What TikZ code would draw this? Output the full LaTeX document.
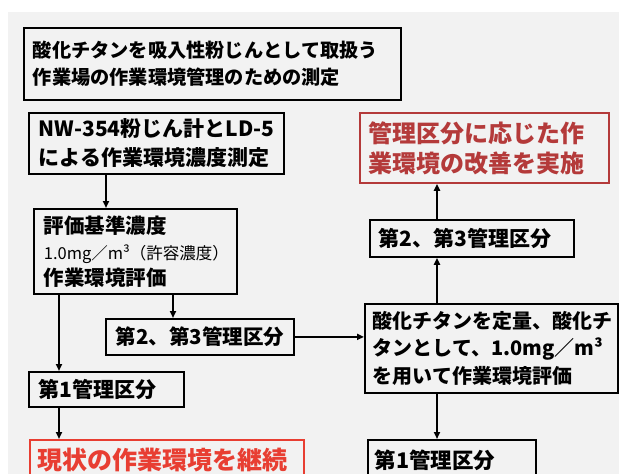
\documentclass[tikz,border=0pt]{standalone}
\usepackage{fontspec}
\setmainfont{Noto Sans CJK JP}
\usetikzlibrary{arrows.meta,calc}
\definecolor{bg}{RGB}{242,242,242}
\definecolor{dred}{RGB}{180,58,58}
\definecolor{bred}{RGB}{232,62,50}
\begin{document}
\begin{tikzpicture}[x=1pt,y=-1pt,
  bx/.style={draw=black, line width=1.8pt, anchor=north west, align=left,
    inner xsep=9pt, inner ysep=0pt},
  arr/.style={line width=1.8pt, -{Triangle[length=7pt,width=6pt]}}]
\clip (0,0) rectangle (619,474);
\fill[bg] (8,12) rectangle (619,474);
\coordinate (cx) at (437,0);

\node[bx, text width=359pt, minimum height=72pt,
  font=\bfseries\fontsize{19.2}{27}\selectfont] (title) at (23,27)
  {酸化チタンを吸入性粉じんとして取扱う\\作業場の作業環境管理のための測定};

\node[bx, text width=235pt, minimum height=61pt, inner xsep=10pt,
  font=\bfseries\fontsize{21}{29}\selectfont] (b1) at (28,112)
  {\mbox{NW-354粉じん計とLD-5}\\による作業環境濃度測定};

\node[bx, text width=183pt, minimum height=85pt, inner xsep=10pt,
  font=\bfseries\fontsize{20.5}{26}\selectfont] (b2) at (33,208)
  {評価基準濃度\\{\mdseries\fontsize{16.5}{26}\selectfont 1.0mg／m³（許容濃度）}\\作業環境評価};

\node[bx, text width=168pt, minimum height=36pt, inner xsep=10pt,
  font=\bfseries\fontsize{20.5}{26}\selectfont] (l23) at (105,318)
  {第2、第3管理区分};

\node[bx, text width=135pt, minimum height=35pt, inner xsep=10pt,
  font=\bfseries\fontsize{21}{26}\selectfont] (l1) at (28,371)
  {第1管理区分};

\node[bx, draw=bred, text=bred, text width=258pt, minimum height=40pt, inner xsep=8pt,
  font=\bfseries\fontsize{25}{30}\selectfont] (redl) at (29,439)
  {現状の作業環境を継続};

\node[bx, text width=237pt, minimum height=89pt, inner xsep=8pt,
  font=\bfseries\fontsize{20}{27.5}\selectfont] (r) at (364,303)
  {酸化チタンを定量、酸化チ\\\mbox{タンとして、1.0mg／m³}\\を用いて作業環境評価};

\node[bx, text width=186pt, minimum height=37pt,
  font=\bfseries\fontsize{21}{26}\selectfont] (r23) at (369,219)
  {第2、第3管理区分};

\node[bx, draw=dred, text=dred, text width=231pt, minimum height=70pt,
  font=\bfseries\fontsize{24}{30}\selectfont] (redr) at (359,112)
  {管理区分に応じた作\\業環境の改善を実施};

\node[bx, text width=154pt, minimum height=40pt, inner xsep=7pt,
  font=\bfseries\fontsize{21.5}{26}\selectfont] (r1) at (367,439)
  {第1管理区分};

\draw[arr] ([xshift=78pt]b1.south west) -- ([xshift=73pt]b2.north west);
\draw[arr] ([xshift=26pt]b2.south west) -- ([xshift=31pt]l1.north west);
\draw[arr] ([xshift=140pt]b2.south west) -- ([xshift=68pt]l23.north west);
\draw[arr] (l23.east) -- (l23.east -| r.west);
\draw[arr] ([xshift=31pt]l1.south west) -- ([xshift=30pt]redl.north west);
\draw[arr] (r.north -| cx) -- (r23.south -| cx);
\draw[arr] (r23.north -| cx) -- (redr.south -| cx);
\draw[arr] (r.south -| cx) -- (r1.north -| cx);
\end{tikzpicture}
\end{document}
